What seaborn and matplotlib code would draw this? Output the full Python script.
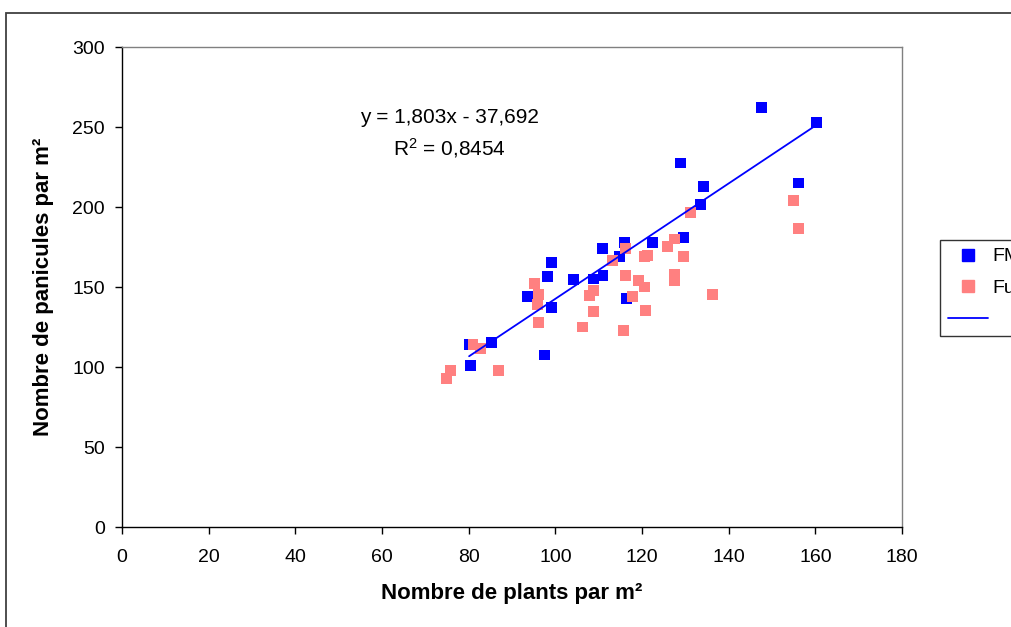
import matplotlib
matplotlib.use("Agg")
import matplotlib.pyplot as plt
from matplotlib.lines import Line2D
from matplotlib.patches import Rectangle
import numpy as np
import pandas as pd
import seaborn as sns

# ---- data ----
fm_x = [80.1, 80.5, 85.2, 93.5, 97.4, 98.1, 99.2, 99.2, 104.1, 108.7, 111.0, 110.8,
        116.0, 114.7, 116.5, 122.5, 129.5, 133.6, 134.1, 128.8, 147.5, 160.2, 156.2]
fm_y = [113.8, 101.0, 115.6, 143.8, 107.5, 156.3, 165.6, 136.9, 154.4, 155.0, 156.9, 173.8,
        178.0, 168.8, 143.0, 178.0, 181.0, 201.3, 213.0, 227.5, 261.9, 253.1, 215.0]
fu_x = [75.7, 74.8, 81.0, 82.8, 86.8, 95.1, 96.2, 95.8, 96.2, 107.8, 108.9, 108.9,
        106.2, 115.8, 117.7, 116.1, 113.1, 116.1, 119.3, 120.5, 120.7, 120.5, 121.2,
        125.8, 127.6, 127.6, 127.6, 129.5, 131.1, 136.2, 154.9, 156.2]
fu_y = [98.1, 93.1, 113.8, 111.3, 98.1, 151.9, 145.6, 138.8, 128.1, 144.4, 148.1, 134.4,
        125.0, 123.1, 143.8, 156.9, 166.3, 173.8, 153.8, 150.0, 135.6, 168.8, 169.4,
        175.6, 180.0, 158.1, 153.8, 168.8, 196.3, 145.6, 203.8, 186.3]
series_names = ["FM", "Fu"]
trend_slope = 1.803
trend_intercept = -37.692
eq_text = "y = 1,803x - 37,692"
r2_text = "R$^2$ = 0,8454"
x_ticks = [0, 20, 40, 60, 80, 100, 120, 140, 160, 180]
y_ticks = [0, 50, 100, 150, 200, 250, 300]
x_label = "Nombre de plants par m²"
y_label = "Nombre de panicules par m²"

colors = {"FM": "#0000FF", "Fu": "#FF8080"}

df = pd.DataFrame({
    "x": fm_x + fu_x,
    "y": fm_y + fu_y,
    "serie": [series_names[0]] * len(fm_x) + [series_names[1]] * len(fu_x),
})
xr = np.array([min(fm_x), max(fm_x)])
trend = pd.DataFrame({"x": xr, "y": trend_slope * xr + trend_intercept})

sns.set_theme(style="white")
plt.rcParams["font.family"] = ["Liberation Sans", "DejaVu Sans"]
plt.rcParams["mathtext.fontset"] = "custom"
plt.rcParams["mathtext.rm"] = "Liberation Sans"
plt.rcParams["mathtext.it"] = "Liberation Sans"
for k in ["text.color", "axes.labelcolor", "xtick.color", "ytick.color"]:
    plt.rcParams[k] = "black"

W, H = 1011, 627
fig = plt.figure(figsize=(W / 100, H / 100), dpi=100)
ax = fig.add_axes([122 / W, 1 - 527 / H, 780 / W, 480 / H])

sns.scatterplot(data=df, x="x", y="y", hue="serie", palette=colors, marker="s",
                s=62, linewidth=0, ax=ax, legend=False, zorder=3)
sns.lineplot(data=trend, x="x", y="y", color="#0000FF", linewidth=1.3, ax=ax,
             zorder=4, legend=False)

ax.set_xlim(0, 180)
ax.set_ylim(0, 300)
ax.set_xticks(x_ticks)
ax.set_yticks(y_ticks)
ax.tick_params(axis="both", direction="out", length=5, width=1, color="black",
               labelsize=14, left=True, bottom=True)
ax.tick_params(axis="x", pad=11)
ax.tick_params(axis="y", pad=7.5)
ax.set_xlabel(x_label, fontsize=16, fontweight="bold", labelpad=12)
ax.set_ylabel(y_label, fontsize=16, fontweight="bold", labelpad=13)
for s in ["left", "bottom"]:
    ax.spines[s].set_color("black")
    ax.spines[s].set_linewidth(1)
for s in ["top", "right"]:
    ax.spines[s].set_color("#808080")
    ax.spines[s].set_linewidth(1)
ax.grid(False)

ax.text(75.6, 256.0, eq_text, ha="center", va="center", fontsize=15)
ax.text(75.6, 236.8, r2_text, ha="center", va="center", fontsize=15)

# outer chart-area border
fig.patches.append(Rectangle((6 / W, -0.1), 1.2, (1 - 13 / H) + 0.1,
                             transform=fig.transFigure, fill=False,
                             edgecolor="#404040", linewidth=1.3))

handles = [
    Line2D([], [], marker="s", linestyle="none", color=colors["FM"], markersize=8),
    Line2D([], [], marker="s", linestyle="none", color=colors["Fu"], markersize=8),
    Line2D([], [], color="#0000FF", linewidth=1.3),
]
leg = fig.legend(handles, ["FM", "Fu", " "], loc="upper left",
                 bbox_to_anchor=(940 / W, 1 - 240 / H), frameon=True, fancybox=False,
                 edgecolor="black", fontsize=14, handlelength=2.05, handletextpad=0.25,
                 labelspacing=0.72, borderpad=0.4, borderaxespad=0)
leg.get_frame().set_linewidth(1)

fig.savefig("out.png", dpi=100)
